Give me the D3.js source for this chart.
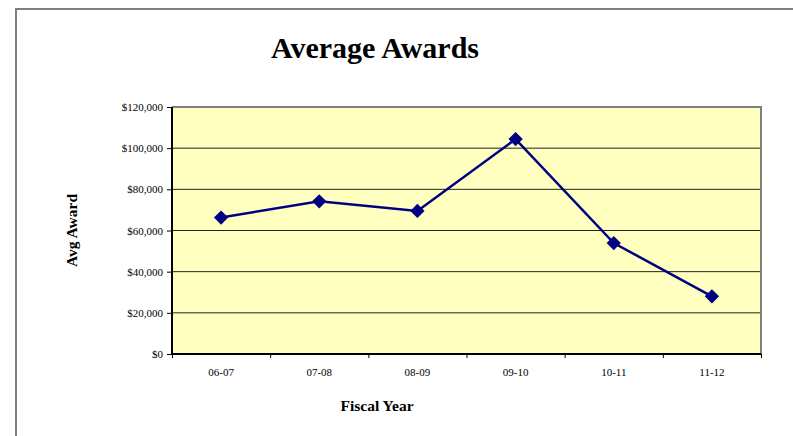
<!DOCTYPE html>
<head>
    <meta charset="utf-8">
    <style>
        body {
            margin: 0;
            background: #fff;
            font-family: 'Liberation Serif', 'DejaVu Serif', serif;
        }

        svg {
            position: absolute;
            top: 0;
            left: 0;
        }

        .chart-title {
            font-family: 'Liberation Serif', serif;
            font-size: 30px;
            font-weight: bold;
            text-anchor: middle;
        }

        .axis-title {
            font-family: 'Liberation Serif', serif;
            font-size: 15.5px;
            font-weight: bold;
            text-anchor: middle;
        }

        .axis text {
            font-family: 'Liberation Serif', serif;
            font-size: 11px;
            fill: #000;
        }

        .axis path {
            display: none;
        }

        .axis line {
            stroke: #000;
        }
    </style>
    <script src="https://d3js.org/d3.v7.min.js"></script>
</head>

<body>
    <script>
        ////////////// Data //////////////

        const fiscal_years = ["06-07", "07-08", "08-09", "09-10", "10-11", "11-12"]
        const avg_awards = [66300, 74200, 69500, 104400, 53900, 28000]
        const y_ticks = [0, 20000, 40000, 60000, 80000, 100000, 120000]

        ////////////// Create the SVG //////////////

        const W = 793, H = 436
        let margin = { top: 107, right: 32, bottom: 82, left: 172 }
        let width = W - margin.left - margin.right,
            height = H - margin.top - margin.bottom

        let root = d3.select("body")
            .append("svg")
            .attr("width", W)
            .attr("height", H)

        //Outer frame (only left and top edges show in the picture)
        root.append("path")
            .attr("d", "M16 " + H + " V9 H" + W)
            .attr("fill", "none")
            .attr("stroke", "#808080")
            .attr("stroke-width", 2)

        let svg = root.append("g")
            .attr("transform", "translate(" + margin.left + "," + margin.top + ")")

        ////////////// Scales //////////////

        const x_scale = d3.scaleBand()
            .domain(fiscal_years)
            .range([0, width])

        //Boundaries between categories, for the tick marks
        const x_edges = d3.scaleLinear()
            .domain([0, fiscal_years.length])
            .range([0, width])

        const y_scale = d3.scaleLinear()
            .domain([0, 120000])
            .range([height, 0])

        ////////////// Plot area //////////////

        svg.append("rect")
            .attr("width", width)
            .attr("height", height)
            .attr("fill", "#ffffc0")

        //Gridlines
        svg.selectAll(".grid")
            .data(y_ticks.slice(1, -1))
            .enter().append("line")
            .attr("class", "grid")
            .attr("x1", 0)
            .attr("x2", width)
            .attr("y1", d => y_scale(d))
            .attr("y2", d => y_scale(d))
            .attr("stroke", "#222")
            .attr("stroke-width", 1)

        //Top and right border of the plot area
        svg.append("path")
            .attr("d", "M0 " + y_scale(120000) + " H" + width + " V" + height)
            .attr("fill", "none")
            .attr("stroke", "#808080")
            .attr("stroke-width", 2)

        ////////////// Axes //////////////

        let y_axis = svg.append("g")
            .attr("class", "axis y")
            .call(d3.axisLeft(y_scale)
                .tickValues(y_ticks)
                .tickSize(5)
                .tickPadding(4)
                .tickFormat(d => "$" + d3.format(",")(d))
            )

        svg.append("g")
            .attr("class", "axis x-ticks")
            .attr("transform", "translate(0," + height + ")")
            .call(d3.axisBottom(x_edges)
                .tickValues(d3.range(fiscal_years.length + 1))
                .tickSize(4)
                .tickFormat("")
            )

        let x_axis = svg.append("g")
            .attr("class", "axis x")
            .attr("transform", "translate(0," + height + ")")
            .call(d3.axisBottom(x_scale)
                .tickSize(0)
                .tickPadding(14)
            )
        x_axis.selectAll("line").remove()

        //Axis lines
        svg.append("line")
            .attr("x1", 0).attr("x2", 0)
            .attr("y1", 0).attr("y2", height)
            .attr("stroke", "#000").attr("stroke-width", 2)
        svg.append("line")
            .attr("x1", 0).attr("x2", width)
            .attr("y1", height).attr("y2", height)
            .attr("stroke", "#000").attr("stroke-width", 2)

        ////////////// Line and markers //////////////

        const points = fiscal_years.map((d, i) => ({ year: d, value: avg_awards[i] }))

        svg.append("path")
            .datum(points)
            .attr("fill", "none")
            .attr("stroke", "#000080")
            .attr("stroke-width", 2.5)
            .attr("d", d3.line()
                .x(d => x_scale(d.year) + x_scale.bandwidth() / 2)
                .y(d => y_scale(d.value))
            )

        svg.selectAll(".marker")
            .data(points)
            .enter().append("path")
            .attr("class", "marker")
            .attr("transform", d => "translate(" + (x_scale(d.year) + x_scale.bandwidth() / 2) + "," + y_scale(d.value) + ")")
            .attr("d", d3.symbol().type(d3.symbolDiamond2).size(130))
            .attr("fill", "#000080")

        ////////////// Titles //////////////

        root.append("text")
            .attr("class", "chart-title")
            .attr("x", 375)
            .attr("y", 58)
            .text("Average Awards")

        root.append("text")
            .attr("class", "axis-title")
            .attr("x", 377)
            .attr("y", 411)
            .text("Fiscal Year")

        root.append("text")
            .attr("class", "axis-title")
            .attr("transform", "translate(77," + (margin.top + height / 2) + ") rotate(-90)")
            .text("Avg Award")
    </script>
</body>
